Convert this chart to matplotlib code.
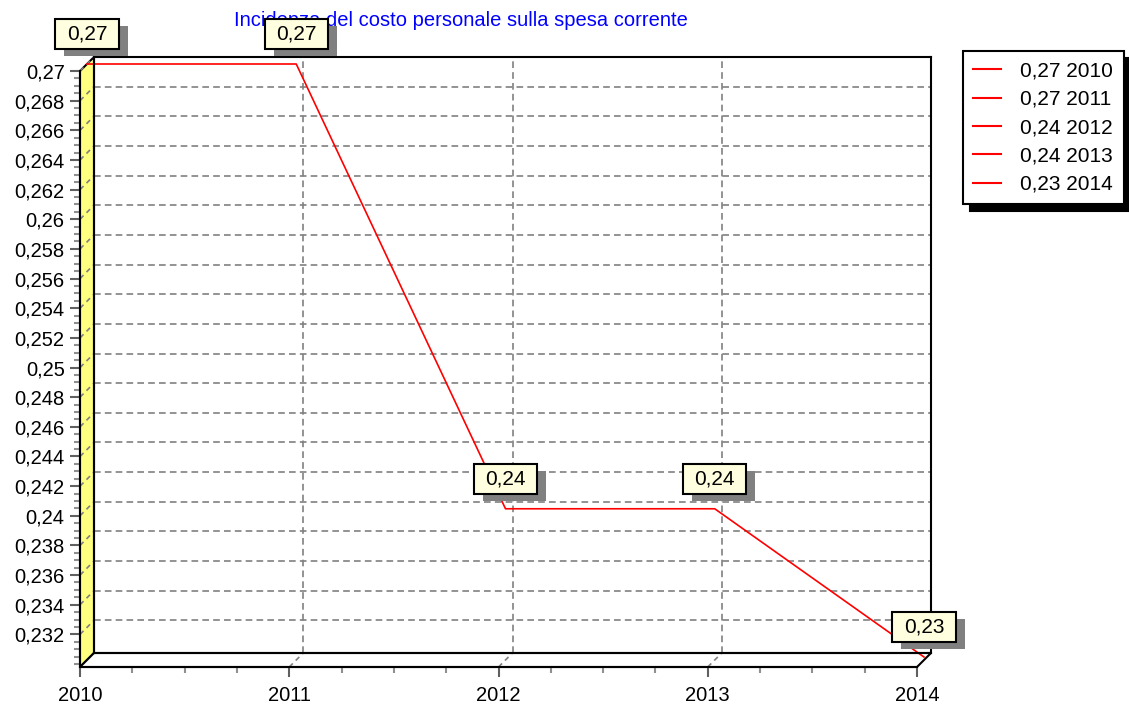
import numpy as np
import matplotlib
matplotlib.use("Agg")
import matplotlib.pyplot as plt
from matplotlib import transforms as mtransforms, patheffects
from matplotlib.lines import Line2D
from matplotlib.patches import Polygon
from matplotlib.collections import LineCollection
from matplotlib.path import Path
from matplotlib.ticker import FixedLocator, MultipleLocator, FuncFormatter

plt.rcParams['font.family'] = ['Liberation Sans', 'DejaVu Sans']

# data
years = [2010, 2011, 2012, 2013, 2014]
values = [0.27, 0.27, 0.24, 0.24, 0.23]
title = "Incidenza del costo personale sulla spesa corrente"
y_lim = (0.2298, 0.27)
y_major = np.arange(0.232, 0.2701, 0.002)

W, H = 1129, 705
DEPTH = 14  # px, pseudo 3d offset


def comma(v, pos=None):
    return f"{round(v, 4):g}".replace('.', ',')


def label_box(x0, y0, width, height, mutation_size):
    padx = 0.55 * mutation_size
    pady = 0.26 * mutation_size
    x0, y0 = x0 - padx, y0 - pady
    x1, y1 = x0 + width + 2 * padx, y0 + height + 2 * pady
    return Path([(x0, y0), (x1, y0), (x1, y1), (x0, y1), (x0, y0)], closed=True)


fig = plt.figure(figsize=(W / 100, H / 100), dpi=100)

# back plane (grid)
bl, bb, bw, bh = 94 / W, (H - 653) / H, (931 - 94) / W, (653 - 57) / H
ax = fig.add_axes([bl, bb, bw, bh])
ax.set_xlim(years[0], years[-1])
ax.set_ylim(*y_lim)
ax.set_xticks(years)
ax.set_yticks(y_major)
ax.tick_params(length=0, labelbottom=False, labelleft=False)
ax.grid(True, color='#808080', ls=(0, (4, 2.5)), lw=1.2)
for s in ax.spines.values():
    s.set_linewidth(1.5)

# front axes (ticks + labels)
axf = fig.add_axes([bl - DEPTH / W, bb - DEPTH / H, bw, bh])
axf.patch.set_visible(False)
axf.set_xlim(years[0], years[-1])
axf.set_ylim(*y_lim)
axf.xaxis.set_major_locator(FixedLocator(years))
axf.xaxis.set_minor_locator(MultipleLocator(0.25))
axf.yaxis.set_major_locator(FixedLocator(y_major))
axf.yaxis.set_minor_locator(MultipleLocator(0.0005))
axf.yaxis.set_major_formatter(FuncFormatter(comma))
axf.xaxis.set_major_formatter(FuncFormatter(lambda v, p: f"{int(v)}"))
axf.spines[['top', 'right']].set_visible(False)
axf.spines[['left', 'bottom']].set_linewidth(1.5)
axf.tick_params(which='major', color='#606060', width=1.5, labelsize=14.5)
axf.tick_params(axis='y', which='major', length=7, pad=4)
axf.tick_params(axis='x', which='major', length=7, pad=7)
axf.tick_params(which='minor', color='#909090', width=1.5, length=4)

# 3d wall and floor
fr = axf.transData.transform
bk = ax.transData.transform
x0, x1 = years[0], years[-1]
wall = Polygon([fr((x0, y_lim[0])), fr((x0, y_lim[1])), bk((x0, y_lim[1])), bk((x0, y_lim[0]))],
               closed=True, fc='#FFFF80', ec='black', lw=1.5,
               transform=mtransforms.IdentityTransform(), clip_on=False, zorder=0.3)
floor = Polygon([fr((x0, y_lim[0])), fr((x1, y_lim[0])), bk((x1, y_lim[0])), bk((x0, y_lim[0]))],
                closed=True, fc='white', ec='black', lw=1.5,
                transform=mtransforms.IdentityTransform(), clip_on=False, zorder=0.3)
ax.add_artist(wall)
ax.add_artist(floor)

segs = [[fr((x0, v)), bk((x0, v))] for v in y_major]
segs += [[fr((yr, y_lim[0])), bk((yr, y_lim[0]))] for yr in years[1:-1]]
diag = LineCollection(segs, colors='#808080', linestyles=[(0, (3, 2.5))], lw=1.2,
                      transform=mtransforms.IdentityTransform(), clip_on=False, zorder=0.4)
ax.add_collection(diag, autolim=False)

# data line at mid depth
mid = mtransforms.offset_copy(ax.transData, fig=fig, x=-DEPTH / 2, y=-DEPTH / 2, units='dots')
ax.plot(years, values, color='red', lw=1.2, transform=mid, clip_on=False, zorder=2)

for yr, v in zip(years, values):
    ann = ax.annotate(comma(v), xy=(yr, v), xycoords=mid, xytext=(0, 21.5),
                      textcoords='offset points', ha='center', va='center', fontsize=15,
                      bbox=dict(boxstyle=label_box, fc='#FFFFE0', ec='black', lw=1.5),
                      annotation_clip=False, zorder=5)
    ann.get_bbox_patch().set_path_effects([
        patheffects.SimplePatchShadow(offset=(6.5, -5), shadow_rgbFace='#808080', alpha=1.0),
        patheffects.Normal()])

fig.text(461 / W, 1 - 20 / H, title, color='#0000FF', fontsize=14.5,
         ha='center', va='center', zorder=-1)

handles = [Line2D([], [], color='red', lw=1.5) for _ in years]
labels = [f"{comma(v)} {yr}" for yr, v in zip(years, values)]
leg = fig.legend(handles, labels, loc='upper left', bbox_to_anchor=(963 / W, 1 - 51 / H),
                 borderaxespad=0, fontsize=15, frameon=True, fancybox=False,
                 handlelength=1.3, handletextpad=0.95, labelspacing=0.45, borderpad=0.5,
                 shadow={'ox': 5, 'oy': -5, 'facecolor': 'black', 'edgecolor': 'black', 'alpha': 1})
leg.get_frame().set_edgecolor('black')
leg.get_frame().set_linewidth(1.5)

fig.savefig('out.png', dpi=100)
